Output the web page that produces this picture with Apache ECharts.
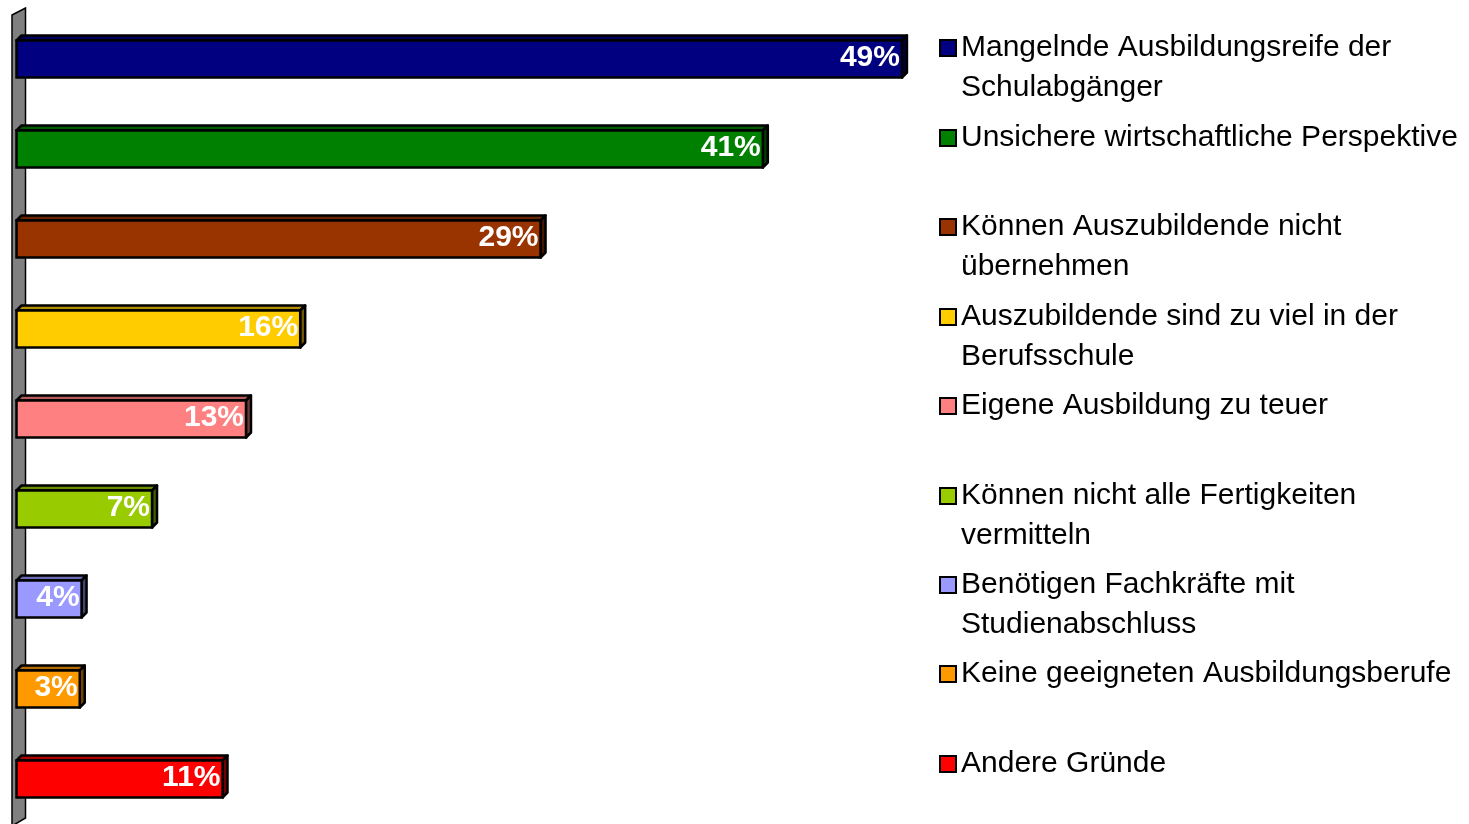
<!DOCTYPE html>
<html>
<head>
<meta charset="utf-8">
<script src="https://cdn.jsdelivr.net/npm/echarts@6/dist/echarts.min.js"></script>
<style>
  html, body { margin: 0; padding: 0; background: #fff; }
  #chart { width: 1469px; height: 824px; }
</style>
</head>
<body>
<div id="chart"></div>
<script>
const categories = [
  'Mangelnde Ausbildungsreife der Schulabgänger',
  'Unsichere wirtschaftliche Perspektive',
  'Können Auszubildende nicht übernehmen',
  'Auszubildende sind zu viel in der Berufsschule',
  'Eigene Ausbildung zu teuer',
  'Können nicht alle Fertigkeiten vermitteln',
  'Benötigen Fachkräfte mit Studienabschluss',
  'Keine geeigneten Ausbildungsberufe',
  'Andere Gründe'
];
const legendLines = [
  'Mangelnde Ausbildungsreife der\nSchulabgänger',
  'Unsichere wirtschaftliche Perspektive',
  'Können Auszubildende nicht\nübernehmen',
  'Auszubildende sind zu viel in der\nBerufsschule',
  'Eigene Ausbildung zu teuer',
  'Können nicht alle Fertigkeiten\nvermitteln',
  'Benötigen Fachkräfte mit\nStudienabschluss',
  'Keine geeigneten Ausbildungsberufe',
  'Andere Gründe'
];
const values = [49, 41.3, 29, 15.7, 12.7, 7.5, 3.6, 3.5, 11.4];
const valueLabels = ['49%', '41%', '29%', '16%', '13%', '7%', '4%', '3%', '11%'];
const colors = ['#000080', '#008000', '#993300', '#FFCC00', '#FF8080', '#99CC00', '#9999FF', '#FF9900', '#FF0000'];

function shade(hex, f) {
  const n = parseInt(hex.slice(1), 16);
  const r = Math.round(((n >> 16) & 255) * f);
  const g = Math.round(((n >> 8) & 255) * f);
  const b = Math.round((n & 255) * f);
  return 'rgb(' + r + ',' + g + ',' + b + ')';
}

function renderItem(params, api) {
  const v = api.value(0), c = api.value(1);
  const p0 = api.coord([0, c]);
  const p1 = api.coord([v, c]);
  const h = 37, d = 5;
  const x0 = p0[0], x1 = p1[0];
  const yt = p0[1] - h / 2, yb = p0[1] + h / 2;
  const col = colors[params.seriesIndex];
  return {
    type: 'group',
    children: [
      { type: 'polygon', shape: { points: [[x0, yt], [x0 + d, yt - d], [x1 + d, yt - d], [x1, yt]] },
        style: { fill: shade(col, 0.7), stroke: '#000', lineWidth: 2.5, lineJoin: 'round' } },
      { type: 'polygon', shape: { points: [[x1, yt], [x1 + d, yt - d], [x1 + d, yb - d], [x1, yb]] },
        style: { fill: shade(col, 0.45), stroke: '#000', lineWidth: 2.5, lineJoin: 'round' } },
      { type: 'rect', shape: { x: x0, y: yt, width: x1 - x0, height: h },
        style: { fill: col, stroke: '#000', lineWidth: 2.5 } },
      { type: 'text', x: x1 - 2, y: p0[1] - 1,
        style: { text: valueLabels[params.seriesIndex], fill: '#fff',
          font: 'bold 30px "Liberation Sans", Arial, sans-serif', align: 'right', verticalAlign: 'middle' } }
    ]
  };
}

const markerCenters = [48, 138, 227, 317, 406, 496, 585, 674, 764];
const legends = categories.map((name, i) => {
  const twoLine = legendLines[i].indexOf('\n') >= 0;
  return {
    data: [name],
    left: 939,
    top: markerCenters[i] - (twoLine ? 60 : 20),
    padding: 0,
    orient: 'vertical',
    icon: 'rect',
    itemWidth: 16,
    itemHeight: 16,
    itemStyle: { borderColor: '#000', borderWidth: 2 },
    selectedMode: false,
    formatter: () => (twoLine ? ' \n' : '') + legendLines[i],
    textStyle: {
      fontFamily: '"Liberation Sans", Arial, sans-serif',
      fontSize: 30,
      lineHeight: 40,
      color: '#000'
    }
  };
});

const chart = echarts.init(document.getElementById('chart'), null, { renderer: 'canvas' });
chart.setOption({
  animation: false,
  backgroundColor: '#fff',
  grid: { left: 16.5, top: 14, width: 903.5, height: 811, containLabel: false },
  xAxis: { type: 'value', min: 0, max: 50, show: false },
  yAxis: { type: 'category', data: categories, inverse: true, show: false },
  legend: legends,
  graphic: [{
    type: 'polygon',
    z: 0,
    shape: { points: [[12, 15], [25.5, 8], [25.5, 818], [12, 826]] },
    style: { fill: '#808080', stroke: '#000', lineWidth: 1.5 }
  }],
  series: categories.map((name, i) => ({
    type: 'custom',
    name: name,
    z: 2,
    color: colors[i],
    renderItem: renderItem,
    encode: { x: 0, y: 1 },
    data: [[values[i], i]]
  }))
});
</script>
</body>
</html>
